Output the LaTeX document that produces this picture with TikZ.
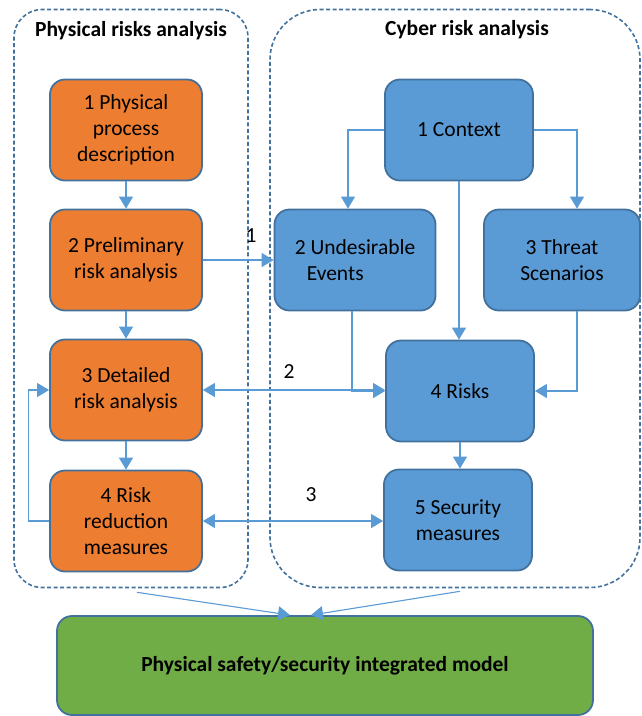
\documentclass[tikz,border=0pt]{standalone}
\usepackage{fontspec}
\setmainfont{Carlito}
\usetikzlibrary{arrows.meta}
\definecolor{rkorange}{HTML}{ED7D31}
\definecolor{rkblue}{HTML}{5B9BD5}
\definecolor{rkgreen}{HTML}{70AD47}
\definecolor{rkedge}{HTML}{41719C}
\tikzset{
  bx/.style={rounded corners=15pt, draw=rkedge, line width=1.8pt, align=center, font=\fontsize{21.5}{26}\selectfont, minimum height=101pt, inner sep=2pt},
  phy/.style={bx, fill=rkorange, minimum width=152pt},
  cyb/.style={bx, fill=rkblue, minimum width=148pt},
  mdl/.style={bx, fill=rkgreen, minimum width=536pt, minimum height=99pt, font=\bfseries\fontsize{21.5}{26}\selectfont},
  grp/.style={draw=rkedge, line width=1.6pt, dash pattern=on 4pt off 2.5pt, inner sep=0pt},
  ttl/.style={font=\bfseries\fontsize{21.5}{26}\selectfont},
  lbl/.style={font=\fontsize{21.5}{26}\selectfont, inner sep=0pt},
  arr/.style={-{Triangle[length=12pt,width=14pt]}, line width=1.1pt, color=rkblue},
  arr2/.style={{Triangle[length=12pt,width=14pt]}-{Triangle[length=12pt,width=14pt]}, line width=1.1pt, color=rkblue},
}
\begin{document}
\begin{tikzpicture}[x=1pt,y=-1pt]
  \useasboundingbox (0,0) rectangle (641,716);
  % dashed groups
  \node[grp, rounded corners=28pt, minimum width=234pt, minimum height=578pt] (grpP) at (131,298.5) {};
  \node[grp, rounded corners=50pt, minimum width=370pt, minimum height=578pt] (grpC) at (455,298.5) {};
  \node[ttl] (ttlP) at (131,31) {Physical risks analysis};
  \node[ttl] (ttlC) at (467,30) {Cyber risk analysis};
  % physical side
  \node[phy] (b1) at (126,130) {1 Physical\\process\\description};
  \node[phy] (b2) at (126,260) {2 Preliminary\\risk analysis};
  \node[phy] (b3) at (126,390) {3 Detailed\\risk analysis};
  \node[phy] (b4) at (126,521) {4 Risk\\reduction\\measures};
  % cyber side
  \node[cyb] (ctx) at (459,130) {1 Context};
  \node[cyb, minimum width=161pt, align=left] (ue) at (355,260) {2 Undesirable\\\hspace*{12pt}Events};
  \node[cyb, minimum width=156pt] (thr) at (562,260) {3 Threat\\Scenarios};
  \node[cyb] (risk) at (460,391) {4 Risks};
  \node[cyb] (sec) at (458,520) {5 Security\\measures};
  % model
  \node[mdl] (mdl) at (325,665.5) {Physical safety/security integrated model};
  % links
  \draw[arr] (b1) -- (b2);
  \draw[arr] (b2) -- (b3);
  \draw[arr] (b3) -- (b4);
  \draw[arr] (b4.west) -- ([xshift=-21pt]b4.west) |- (b3.west);
  \draw[arr] (ctx.west) -| ([xshift=-7pt]ue.north);
  \draw[arr] (ctx.east) -| ([xshift=15pt]thr.north);
  \draw[arr] (ctx.south) -- (ctx.south |- risk.north);
  \draw[arr] ([xshift=-3pt]ue.south) |- (risk.west);
  \draw[arr] ([xshift=15pt]thr.south) |- (risk.east);
  \draw[arr] (risk.south) -- (risk.south |- sec.north);
  \draw[arr] (b2) -- (ue);
  \draw[arr2] (b3.east) -- (b3.east -| risk.west);
  \draw[arr2] (b4.east) -- (b4.east -| sec.west);
  \draw[arr] ([shift={(6pt,-4pt)}]grpP.south) -- ([xshift=-35pt]mdl.north);
  \draw[arr] ([shift={(5pt,-3pt)}]grpC.south) -- ([xshift=-14pt]mdl.north);
  \node[lbl] (lbl1) at (251,236) {1};
  \node[lbl] (lbl2) at (289,372) {2};
  \node[lbl] (lbl3) at (311,495) {3};
\end{tikzpicture}
\end{document}
